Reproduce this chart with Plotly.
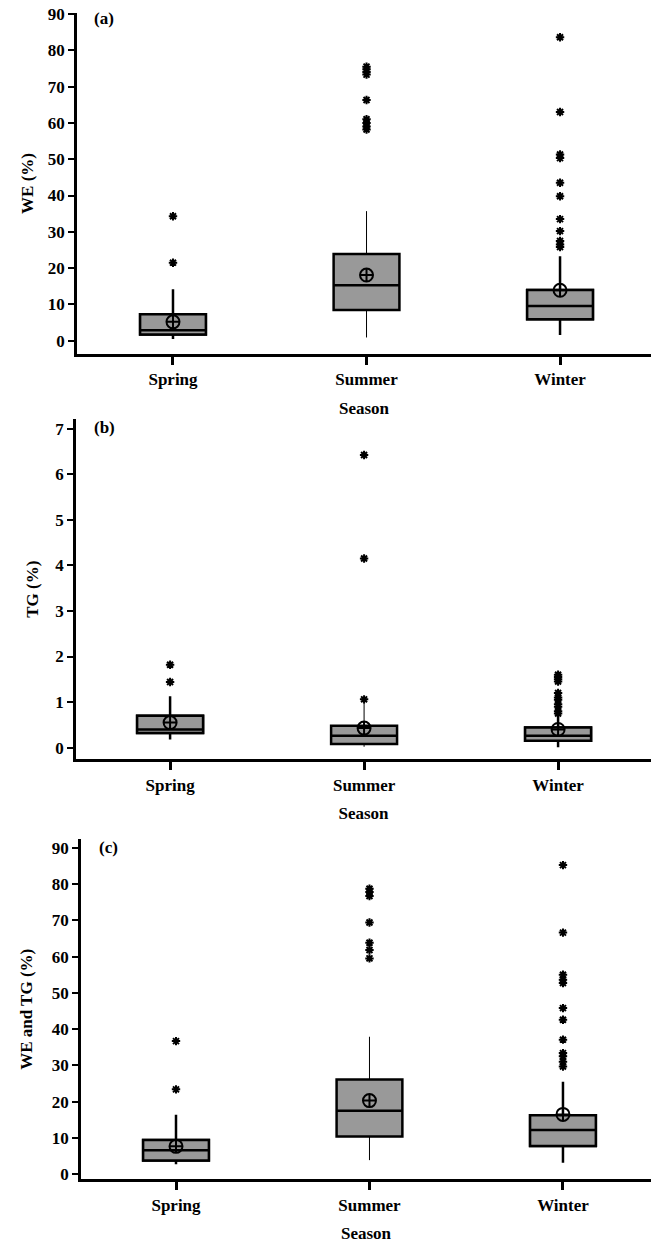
import plotly.graph_objects as go

seasons = ["Spring", "Summer", "Winter"]

# Panel (a): WE (%)
q1_a = [1.7, 8.5, 5.9]
med_a = [2.9, 15.3, 9.6]
q3_a = [7.3, 23.9, 14.0]
low_a = [0.45, 0.9, 1.6]
up_a = [14.2, 35.7, 23.3]
mean_a = [5.2, 18.1, 13.9]
out_a_spring = [34.3, 21.5]
out_a_summer = [75.5, 74.8, 74.0, 73.3, 66.3, 61.0, 60.0, 59.0, 58.2]
out_a_winter = [83.6, 63.0, 51.3, 50.3, 43.5, 39.8, 33.5, 30.2, 27.5, 26.5, 25.8]

# Panel (b): TG (%)
q1_b = [0.32, 0.08, 0.15]
med_b = [0.40, 0.26, 0.26]
q3_b = [0.70, 0.48, 0.44]
low_b = [0.18, 0.02, 0.01]
up_b = [1.13, 1.03, 0.72]
mean_b = [0.55, 0.43, 0.40]
out_b_spring = [1.82, 1.44]
out_b_summer = [6.42, 4.15, 1.06]
out_b_winter = [1.60, 1.55, 1.50, 1.45, 1.20, 1.10, 1.05, 0.95, 0.90, 0.80, 0.75]

# Panel (c): WE and TG (%)
q1_c = [3.8, 10.4, 7.8]
med_c = [6.6, 17.5, 12.2]
q3_c = [9.45, 26.1, 16.3]
low_c = [2.75, 3.9, 3.2]
up_c = [16.4, 37.9, 25.5]
mean_c = [7.7, 20.3, 16.5]
out_c_spring = [36.7, 23.4]
out_c_summer = [78.7, 77.8, 76.7, 69.4, 63.8, 61.8, 59.5]
out_c_winter = [85.2, 66.6, 55.0, 53.6, 52.7, 45.8, 42.6, 37.1, 33.4, 32.5, 31.0, 29.7]

FONT = dict(family="Liberation Serif, Times New Roman, serif", size=17, color="black", weight="bold")
GRAY = "#999999"
whisker_w = {"Spring": 2.5, "Summer": 1, "Winter": 2.5}

panels = [
    dict(q1=q1_a, med=med_a, q3=q3_a, low=low_a, up=up_a, mean=mean_a,
         outs=[out_a_spring, out_a_summer, out_a_winter], title="WE (%)", label="(a)",
         ydom=[0.7161, 0.9896], xdom=[77 / 651, 1.0], yrange=[-3.66, 90.28], xrange=[-0.496, 2.47],
         dtick=10, lab_xy=(92, 19), ystand=10),
    dict(q1=q1_b, med=med_b, q3=q3_b, low=low_b, up=up_b, mean=mean_b,
         outs=[out_b_spring, out_b_summer, out_b_winter], title="TG (%)", label="(b)",
         ydom=[0.3911, 0.6640], xdom=[76 / 651, 1.0], yrange=[-0.255, 7.21], xrange=[-0.485, 2.479],
         dtick=1, lab_xy=(92, 427), ystand=13),
    dict(q1=q1_c, med=med_c, q3=q3_c, low=low_c, up=up_c, mean=mean_c,
         outs=[out_c_spring, out_c_summer, out_c_winter], title="WE and TG (%)", label="(c)",
         ydom=[0.0543, 0.3269], xdom=[81 / 651, 1.0], yrange=[-1.38, 92.3], xrange=[-0.491, 2.455],
         dtick=10, lab_xy=(97, 847), ystand=15),
]

fig = go.Figure()
layout = dict(
    width=651, height=1247,
    margin=dict(l=0, r=0, t=0, b=0, pad=0, autoexpand=False),
    paper_bgcolor="white", plot_bgcolor="white",
    showlegend=False, boxmode="overlay",
    font=FONT, annotations=[],
)

for k, p in enumerate(panels, start=1):
    xa = "x" if k == 1 else f"x{k}"
    ya = "y" if k == 1 else f"y{k}"
    # whiskers (per season, own width)
    for i, s in enumerate(seasons):
        fig.add_trace(go.Box(
            x=[s], q1=[p["q1"][i]], median=[p["med"][i]], q3=[p["q3"][i]],
            lowerfence=[p["low"][i]], upperfence=[p["up"][i]],
            boxpoints=False, whiskerwidth=0, width=0.34,
            fillcolor=GRAY, line=dict(color="black", width=whisker_w[s]),
            xaxis=xa, yaxis=ya, hoverinfo="skip"))
    # boxes on top, thick border
    fig.add_trace(go.Box(
        x=seasons, q1=p["q1"], median=p["med"], q3=p["q3"],
        lowerfence=p["q1"], upperfence=p["q3"],
        boxpoints=False, whiskerwidth=0, width=0.34,
        fillcolor=GRAY, line=dict(color="black", width=2.5),
        xaxis=xa, yaxis=ya))
    # outliers
    ox, oy = [], []
    for s, vals in zip(seasons, p["outs"]):
        ox += [s] * len(vals)
        oy += vals
    fig.add_trace(go.Scatter(
        x=ox, y=oy, mode="markers",
        marker=dict(symbol="asterisk-open", size=7, color="black",
                    line=dict(color="black", width=2)),
        xaxis=xa, yaxis=ya))
    # means
    fig.add_trace(go.Scatter(
        x=seasons, y=p["mean"], mode="markers",
        marker=dict(symbol="circle-cross-open", size=13, color="black",
                    line=dict(color="black", width=2)),
        xaxis=xa, yaxis=ya))

    xkey = "xaxis" if k == 1 else f"xaxis{k}"
    ykey = "yaxis" if k == 1 else f"yaxis{k}"
    layout[xkey] = dict(
        domain=p["xdom"], anchor=ya, type="category", automargin=False,
        categoryorder="array", categoryarray=seasons, range=p["xrange"],
        showline=True, linecolor="black", linewidth=3, mirror=False,
        ticks="outside", ticklen=8, tickwidth=3, tickcolor="black",
        showgrid=False, zeroline=False, tickfont=FONT,
        title=dict(text="Season", font=FONT, standoff=14),
    )
    layout[ykey] = dict(
        domain=p["ydom"], anchor=xa, range=p["yrange"], dtick=p["dtick"], tick0=0,
        automargin=False,
        showline=True, linecolor="black", linewidth=2.5,
        ticks="outside", ticklen=6, tickwidth=2, tickcolor="black",
        showgrid=False, zeroline=False, tickfont=FONT,
        title=dict(text=p["title"], font=FONT, standoff=p["ystand"]),
    )
    lx, ly = p["lab_xy"]
    layout["annotations"].append(dict(
        text=p["label"], x=lx / 651, y=1 - ly / 1247, xref="paper", yref="paper",
        xanchor="left", yanchor="middle", showarrow=False, font=FONT))

fig.update_layout(**layout)
fig.write_html("out.html", config={"displayModeBar": False},
               post_script="document.body.style.margin='0px';document.body.style.padding='0px';")
